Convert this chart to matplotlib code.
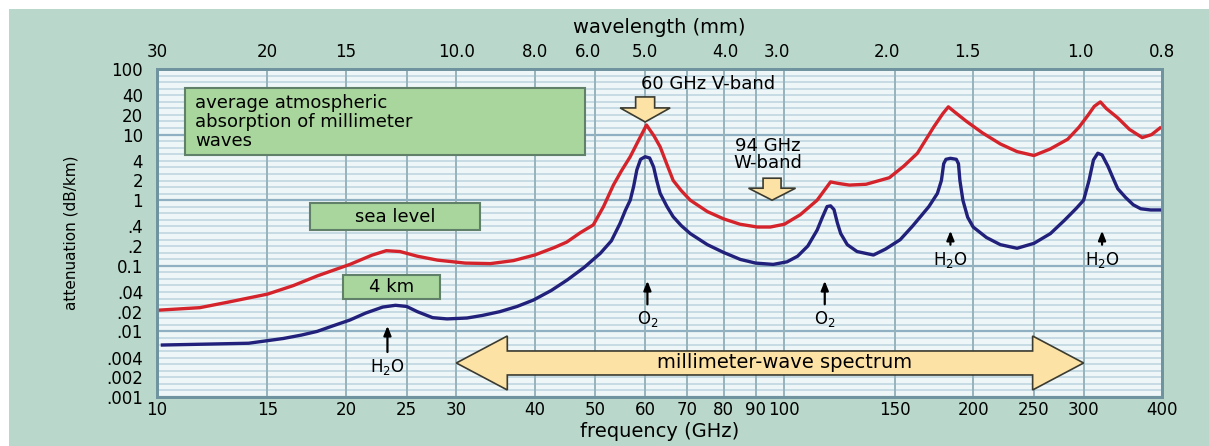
import numpy as np
import matplotlib.pyplot as plt
from matplotlib.patches import Polygon, Rectangle
from matplotlib.ticker import NullLocator
from matplotlib.transforms import IdentityTransform

plt.rcParams['font.family'] = ['DejaVu Sans']

# attenuation (dB/km) vs frequency (GHz)
sea_freq = [10, 11.7, 13, 15, 16.5, 18, 20.3, 22, 23.2, 24.4, 26, 28, 31, 34, 37, 40,
            43, 45, 47.3, 49.6, 51.5, 53.4, 55, 56.8, 58.5, 60.3, 62, 63.4, 65, 66.5,
            68.5, 70.8, 75.4, 80, 85, 90.6, 95, 100, 106, 112.8, 118.5, 122, 127, 135,
            147, 155, 163, 173, 179, 182.6, 187, 195, 207, 221, 235, 250, 265, 283,
            295, 304, 312, 319, 326, 340, 355, 372, 385, 397]
sea_att = [0.021, 0.023, 0.028, 0.037, 0.05, 0.07, 0.105, 0.145, 0.17, 0.165, 0.14,
           0.122, 0.11, 0.108, 0.12, 0.146, 0.19, 0.23, 0.32, 0.42, 0.8, 1.7, 2.8, 4.6,
           8, 14, 9.5, 6.5, 3.5, 2.0, 1.4, 1.0, 0.67, 0.52, 0.43, 0.39, 0.39, 0.43, 0.6,
           1.0, 1.9, 1.8, 1.7, 1.75, 2.2, 3.3, 5.2, 13, 21, 26.5, 22, 16, 10.6, 7.2,
           5.5, 4.8, 6, 8.5, 13, 19, 27, 31.5, 25, 18, 12, 9, 10, 12.6]

km4_freq = [10.2, 12, 14, 15.9, 17, 18, 19, 20.3, 21.5, 22.9, 24, 25, 26, 27.5, 29,
            31.2, 33, 35.2, 37.5, 39.8, 42.5, 45.1, 48, 50.9, 53, 54.7, 55.8, 56.8,
            57.5, 58.2, 59, 60, 61, 61.9, 62.6, 63.4, 65, 66.5, 68.5, 70.8, 75.4, 80,
            85.1, 90, 96, 101, 105, 109, 112.8, 115, 117, 118.5, 120, 121.5, 123, 126,
            130.6, 138.7, 145, 153, 160, 164.8, 170, 175.4, 178, 179.5, 181, 184, 188,
            189.5, 190.5, 192.6, 196, 200, 210, 221, 235, 250, 265.6, 280, 292, 300,
            306, 311, 316, 321, 328, 334, 340, 350, 360, 370, 383.5, 400]
km4_att = [0.0062, 0.0064, 0.0066, 0.0078, 0.0088, 0.010, 0.012, 0.0149, 0.019, 0.0235,
           0.025, 0.024, 0.02, 0.0162, 0.0155, 0.016, 0.0175, 0.020, 0.024, 0.030, 0.042,
           0.061, 0.095, 0.155, 0.24, 0.44, 0.7, 1.0, 1.6, 2.9, 4.2, 4.6, 4.4, 3.2, 2.0,
           1.27, 0.8, 0.56, 0.41, 0.31, 0.21, 0.16, 0.125, 0.11, 0.105, 0.115, 0.14,
           0.2, 0.35, 0.55, 0.8, 0.82, 0.72, 0.45, 0.31, 0.21, 0.165, 0.146, 0.18, 0.25,
           0.4, 0.56, 0.8, 1.27, 2.0, 3.6, 4.2, 4.35, 4.2, 3.6, 2.0, 1.0, 0.55, 0.39,
           0.27, 0.21, 0.185, 0.22, 0.31, 0.5, 0.75, 1.0, 2.0, 4.1, 5.2, 4.9, 3.3, 2.2,
           1.5, 1.1, 0.85, 0.74, 0.71, 0.71]

freq_ticks = [10, 15, 20, 25, 30, 40, 50, 60, 70, 80, 90, 100, 150, 200, 250, 300, 400]
att_ticks = [100, 40, 20, 10, 4, 2, 1, .4, .2, .1, .04, .02, .01, .004, .002, .001]
att_labels = ['100', '40', '20', '10', '4', '2', '1', '.4', '.2', '0.1', '.04', '.02',
              '.01', '.004', '.002', '.001']
# wavelength labels sit where the scan puts them (GHz position on the bottom scale)
wl_labels = ['30', '20', '15', '10.0', '8.0', '6.0', '5.0', '4.0', '3.0', '2.0', '1.5',
             '1.0', '0.8']
wl_pos = [10, 15, 20, 30, 40, 48.7, 60, 80.6, 97.4, 146, 196, 296, 400]

bg = '#b9d8cb'
box_green = '#a9d69c'
arrow_fill = '#fde2a6'
frame = '#6f94a0'

W, H = 1209, 446
fig = plt.figure(figsize=(W / 100, H / 100), dpi=100)
fig.patch.set_facecolor('white')
fig.add_artist(Rectangle((9 / W, 0), 1200 / W, 437 / H, transform=fig.transFigure,
                         facecolor=bg, edgecolor='none', zorder=-10))

ax = fig.add_axes([157 / W, 49 / H, 1005 / W, 328 / H])
ax.set_xscale('log')
ax.set_yscale('log')
ax.set_xlim(10, 400)
ax.set_ylim(0.001, 100)
ax.set_facecolor('#eef6f7')

# horizontal ruling, ten lines per decade, decades a bit darker
for k in np.arange(-30, 21):
    ax.axhline(10 ** (k / 10), color='#8fb0c2' if k % 10 == 0 else '#bcd3df',
               lw=1.6 if k % 10 == 0 else 1.1, zorder=0.5)

ax.set_xticks(freq_ticks)
ax.set_xticklabels([str(t) for t in freq_ticks])
ax.xaxis.set_minor_locator(NullLocator())
ax.set_yticks(att_ticks)
ax.set_yticklabels(att_labels)
ax.yaxis.set_minor_locator(NullLocator())
ax.grid(axis='x', color='#96b3bb', lw=1.4, zorder=0.6)
ax.set_axisbelow(True)
ax.tick_params(length=0, labelsize=12)
ax.tick_params(axis='x', pad=3)
ax.tick_params(axis='y', pad=10)
ax.set_xlabel('frequency (GHz)', fontsize=14, labelpad=2)
ax.set_ylabel('attenuation (dB/km)', fontsize=11, labelpad=20)
for s in ax.spines.values():
    s.set_color(frame)
    s.set_linewidth(2)

top = ax.twiny()
top.set_xscale('log')
top.set_xlim(ax.get_xlim())
top.set_xticks(wl_pos)
top.set_xticklabels(wl_labels)
top.xaxis.set_minor_locator(NullLocator())
top.tick_params(length=0, labelsize=12, pad=6)
top.set_xlabel('wavelength (mm)', fontsize=14, labelpad=7)
for s in top.spines.values():
    s.set_color(frame)
    s.set_linewidth(2)

ax.plot(sea_freq, sea_att, color='#d4232b', lw=2.4, zorder=3)
ax.plot(km4_freq, km4_att, color='#21207a', lw=2.4, zorder=3)

# green label boxes (axes fractions)
def label_box(x0, y0, w, h, text, tx, ty, ha='center', fs=13):
    ax.add_patch(Rectangle((x0, y0), w, h, transform=ax.transAxes, facecolor=box_green,
                           edgecolor='#61806a', lw=1.5, zorder=4))
    ax.text(tx, ty, text, transform=ax.transAxes, ha=ha, va='center', fontsize=fs,
            linespacing=1.05, zorder=5)

label_box(0.028, 0.738, 0.398, 0.204,
          'average atmospheric\nabsorption of millimeter\nwaves', 0.038, 0.838, ha='left')
label_box(0.152, 0.509, 0.169, 0.082, 'sea level', 0.237, 0.550)
label_box(0.185, 0.299, 0.097, 0.073, '4 km', 0.233, 0.335)

# block arrows drawn in pixels around a data anchor
def px(x, y):
    return ax.transData.transform((x, y))

def down_arrow(x, y_tip, length, head_len, head_hw, shaft_hw):
    tx, ty = px(x, y_tip)
    pts = [(tx, ty), (tx - head_hw, ty + head_len), (tx - shaft_hw, ty + head_len),
           (tx - shaft_hw, ty + length), (tx + shaft_hw, ty + length),
           (tx + shaft_hw, ty + head_len), (tx + head_hw, ty + head_len)]
    ax.add_patch(Polygon(pts, closed=True, transform=IdentityTransform(),
                         facecolor=arrow_fill, edgecolor='#3b3b30', lw=1.2, zorder=4))

def double_arrow(x0, x1, y, head_len, head_hw, shaft_hw):
    lx, cy = px(x0, y)
    rx, _ = px(x1, y)
    pts = [(lx, cy), (lx + head_len, cy + head_hw), (lx + head_len, cy + shaft_hw),
           (rx - head_len, cy + shaft_hw), (rx - head_len, cy + head_hw), (rx, cy),
           (rx - head_len, cy - head_hw), (rx - head_len, cy - shaft_hw),
           (lx + head_len, cy - shaft_hw), (lx + head_len, cy - head_hw)]
    ax.add_patch(Polygon(pts, closed=True, transform=IdentityTransform(),
                         facecolor=arrow_fill, edgecolor='#3b3b30', lw=1.2, zorder=4))

down_arrow(60, 15.6, 25, 14, 25, 9.5)
down_arrow(95.6, 1.0, 22, 12, 23.5, 9)
double_arrow(30, 300, 0.0033, 51, 27, 12)

ax.text(0.548, 0.954, '60 GHz V-band', transform=ax.transAxes, ha='center', va='center',
        fontsize=13, zorder=5)
ax.text(0.608, 0.739, '94 GHz\nW-band', transform=ax.transAxes, ha='center', va='center',
        fontsize=13, linespacing=0.95, zorder=5)
ax.text(0.624, 0.104, 'millimeter-wave spectrum', transform=ax.transAxes, ha='center',
        va='center', fontsize=14, zorder=5)

# line markers
lines = [(23.3, 0.0134, 0.0044, 'H$_2$O'), (60.5, 0.065, 0.0235, 'O$_2$'),
         (116, 0.065, 0.0235, 'O$_2$'), (184, 0.377, 0.19, 'H$_2$O'),
         (321, 0.377, 0.19, 'H$_2$O')]
for x, y_hi, y_lo, lab in lines:
    ax.annotate('', xy=(x, y_hi), xytext=(x, y_lo),
                arrowprops=dict(arrowstyle='-|>,head_width=0.22,head_length=0.55',
                                color='black', lw=1.6), zorder=5)
    ax.text(x, y_lo * 0.93, lab, ha='center', va='top', fontsize=12, zorder=5)

fig.savefig('out.png', dpi=100, facecolor=fig.get_facecolor())
